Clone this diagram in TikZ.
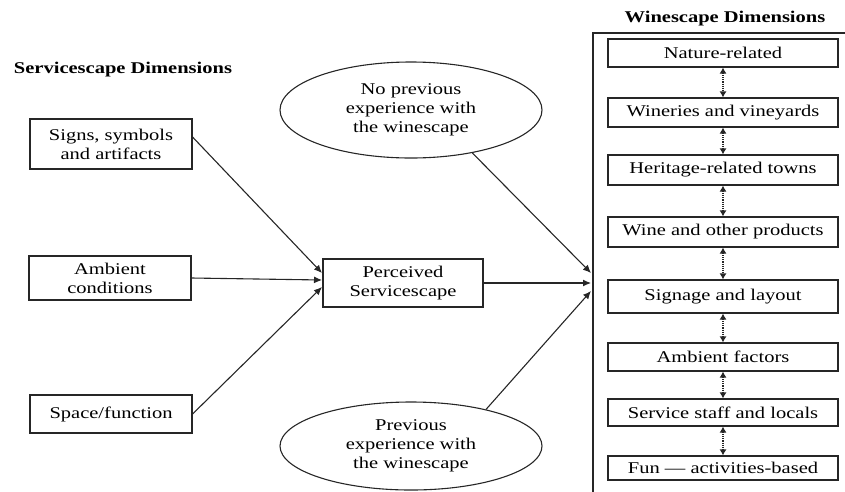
\documentclass[tikz,border=0pt]{standalone}
\usepackage{fontspec}
\setmainfont{Liberation Serif}[FakeStretch=1.25]
\usetikzlibrary{arrows.meta,shapes.geometric}
\tikzset{
  dimbox/.style={draw, minimum width=162pt, align=center, inner sep=0pt},
  wbox/.style={draw, minimum width=230pt, inner sep=0pt},
  mood/.style={draw, ellipse, minimum width=262pt, align=center, inner sep=0pt},
  flow/.style={-{Latex[length=8pt,width=7pt]}},
  wlink/.style={densely dotted, {Latex[length=6pt,width=7pt]}-{Latex[length=6pt,width=7pt]}},
  heading/.style={font=\fontsize{16.4}{19}\selectfont\bfseries}
}
\begin{document}
\begin{tikzpicture}[x=1pt, y=-1pt, line width=1.1pt, draw=black!85, font=\fontsize{16.4}{19}\selectfont]
    \useasboundingbox (0,0) rectangle (845,491);

    \node[heading] (servtitle) at (123,70) {Servicescape Dimensions};
    \node[heading] (winetitle) at (725,19) {Winescape Dimensions};

    \node[dimbox, minimum height=50pt] (signs) at (111,144) {Signs, symbols\\and artifacts};
    \node[dimbox, minimum height=44pt] (ambient) at (110,278) {Ambient\\conditions};
    \node[dimbox, minimum height=38pt] (space) at (111,414) {Space/function};
    \node[dimbox, minimum width=160pt, minimum height=48pt] (perceived) at (403,283) {Perceived\\Servicescape};

    \node[mood, minimum height=96pt] (noprev) at (411,110) {No previous\\experience with\\the winescape};
    \node[mood, minimum height=88pt] (prev) at (411,446) {Previous\\experience with\\the winescape};

    \node[draw, line width=1.6pt, anchor=north west, minimum width=280pt, minimum height=480pt] (winebox) at (592,32) {};

    \coordinate (p1) at (322,273);
    \coordinate (p2) at (322,280);
    \coordinate (p3) at (322,287);
    \coordinate (w1in) at (591,273);
    \coordinate (w2in) at (591,283);
    \coordinate (w3in) at (591,291);

    \draw[flow] ([yshift=7pt]signs.east) -- (p1);
    \draw[flow] (ambient.east) -- (p2);
    \draw[flow] (space.east) -- (p3);
    \draw[flow] (noprev.-35) -- (w1in);
    \draw[flow] (perceived.east) -- (w2in);
    \draw[flow] (prev.26) -- (w3in);

    \foreach \i/\yc/\bh/\txt in {1/53/28/Nature-related, 2/112.5/29/Wineries and vineyards,
      3/170/30/Heritage-related towns, 4/232/30/Wine and other products, 5/296.5/33/Signage and layout,
      6/357/28/Ambient factors, 7/412.5/27/Service staff and locals, 8/468/24/Fun — activities-based}
      \node[wbox, minimum height=\bh pt] (w\i) at (723,\yc) {\txt};
    \foreach \i in {1,...,7} {
      \pgfmathtruncatemacro{\j}{\i+1}
      \draw[wlink] (w\i) -- (w\j);
    }
\end{tikzpicture}
\end{document}
